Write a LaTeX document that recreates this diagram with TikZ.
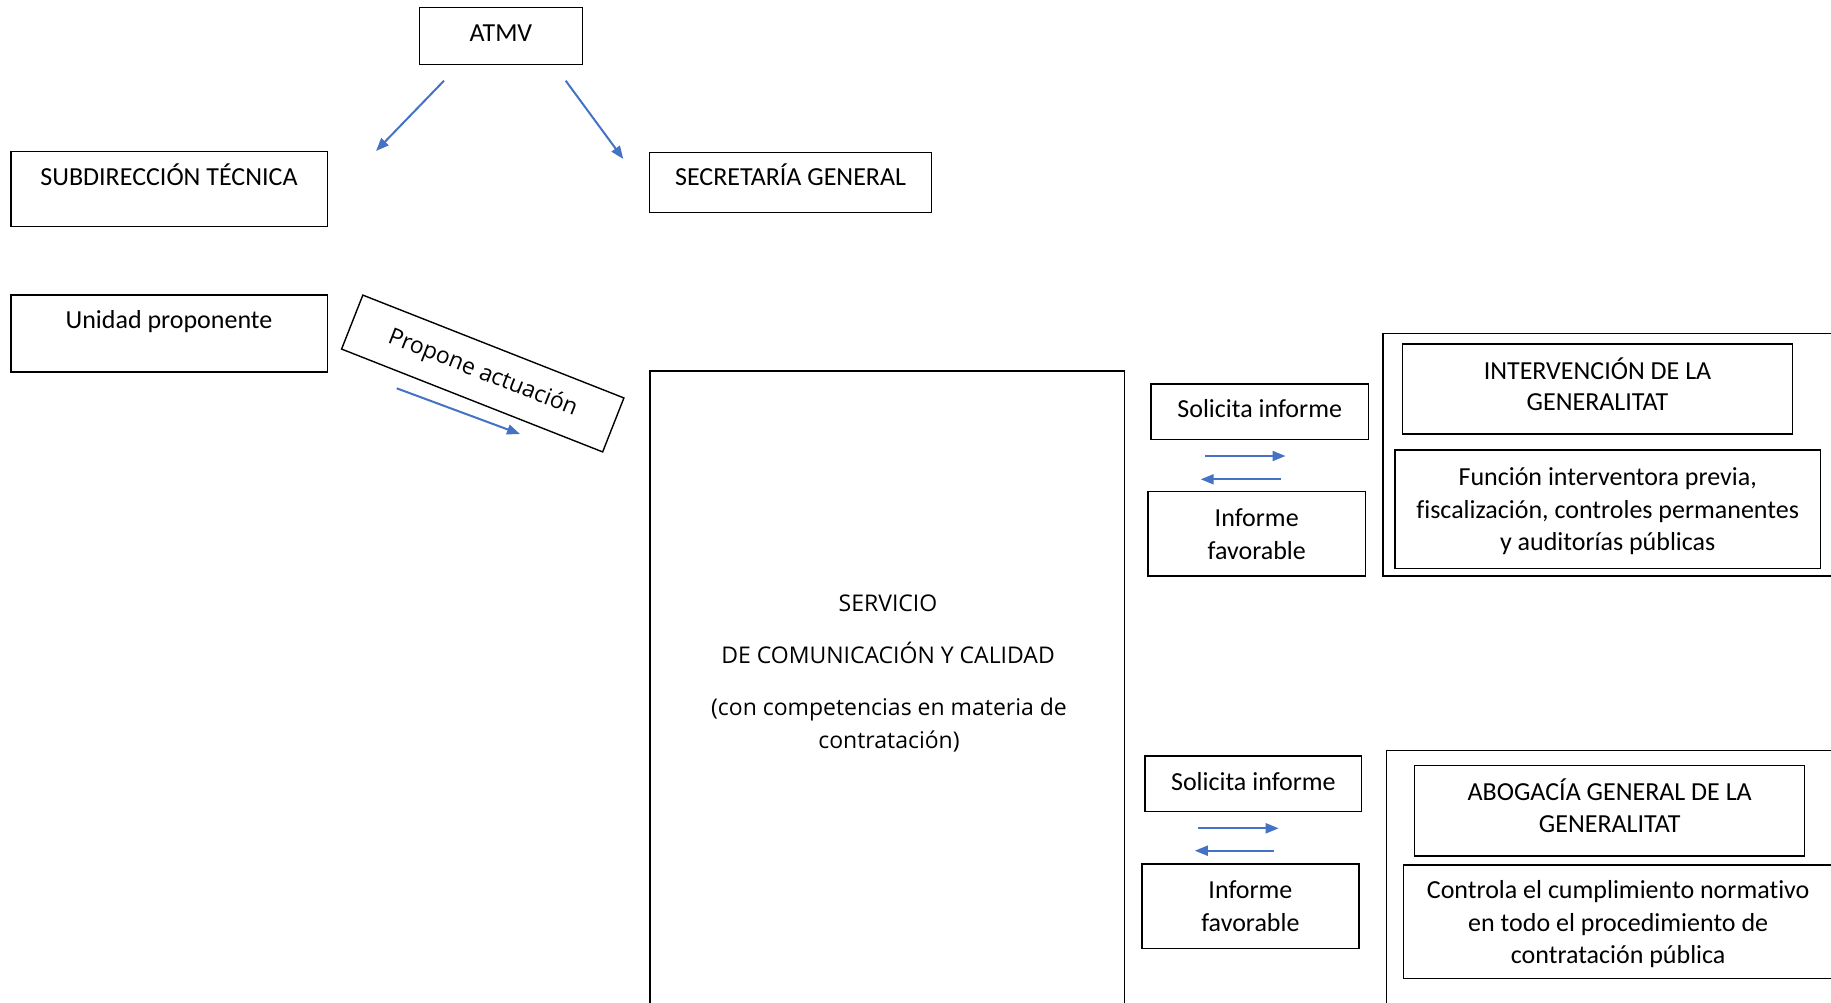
\documentclass[tikz,border=0pt]{standalone}
\usepackage{fontspec}
\setmainfont{Carlito}[Ligatures={NoCommon}]
\newfontfamily\osans{Open Sans}
\usetikzlibrary{fit,arrows.meta}
\definecolor{arrowblue}{HTML}{4472C4}
\begin{document}
\begin{tikzpicture}[x=0.5pt,y=-0.5pt,
  box/.style={draw=black, line width=0.7pt, inner sep=0pt},
  lbl/.style={inner sep=0pt, align=center, font=\fontsize{13}{16}\selectfont},
  slbl/.style={inner sep=0pt, align=center, font=\osans\fontsize{11.5}{15.85}\selectfont},
  arr/.style={draw=arrowblue, line width=1pt, -{Triangle[length=6.5pt,width=5pt]}}]
\useasboundingbox (0,0) rectangle (1831,1002);
\clip (0,0) rectangle (1831,1002);

% boxes
\node[box, fit={(419.4,7.3)(582.4,64.3)}] (atmv) {};
\node[box, fit={(10.9,151.7)(327.3,226.7)}] (subd) {};
\node[box, fit={(649.7,152.3)(931.5,212.3)}] (secr) {};
\node[box, fit={(10.9,295)(327.3,372)}] (unid) {};
\node[box, fit={(650,371)(1124.5,1012)}] (serv) {};
\node[box, rotate=-21.5, minimum width=140.3pt, minimum height=29pt,
      font=\osans\fontsize{11.5}{14}\selectfont] (prop) at (482.75,373.5) {Propone actuación};
\node[box, fit={(1150.8,384)(1368.5,439.3)}] (sol1) {};
\node[box, fit={(1148,491.7)(1365.3,576)}] (inf1) {};
\node[box, fit={(1383,333.3)(1845,576)}] (intout) {};
\node[box, fit={(1402.5,344)(1792.5,434)}] (inttit) {};
\node[box, fit={(1394.8,450)(1820.6,568.3)}] (intfun) {};
\node[box, fit={(1145,756)(1361.7,811.7)}] (sol2) {};
\node[box, fit={(1141.8,864)(1359,948.3)}] (inf2) {};
\node[box, fit={(1386.2,750.7)(1845,1012)}] (abgout) {};
\node[box, fit={(1414.7,765.7)(1804.7,856)}] (abgtit) {};
\node[box, fit={(1403.4,865)(1835,978.3)}] (abgfun) {};

% labels
\node[lbl, anchor=base] (tatmv) at (500.9,41.7) {ATMV};
\node[lbl, anchor=base] (tsubd) at (169,185) {SUBDIRECCIÓN TÉCNICA};
\node[lbl, anchor=base] (tsecr) at (790.6,185) {SECRETARÍA GENERAL};
\node[lbl, anchor=base] (tunid) at (169,328.3) {Unidad proponente};
\node[lbl, anchor=base] (tsol1) at (1259.7,417) {Solicita informe};
\node[lbl, anchor=base] (tsol2) at (1253.4,790) {Solicita informe};
\node[lbl, font=\fontsize{13}{16.4}\selectfont] (tinf1) at (1256.7,534) {Informe\\favorable};
\node[lbl, font=\fontsize{13}{16.4}\selectfont] (tinf2) at (1250.4,906.5) {Informe\\favorable};
\node[lbl, font=\fontsize{13}{15.6}\selectfont] (tinttit) at (1597.5,384) {INTERVENCIÓN DE LA\\GENERALITAT};
\node[lbl, font=\fontsize{13}{16.2}\selectfont] (tabgtit) at (1609.7,805.5) {ABOGACÍA GENERAL DE LA\\GENERALITAT};
\node[lbl, font=\fontsize{13}{16.1}\selectfont] (tintfun) at (1607.7,511.3) {Función interventora previa,\\fiscalización, controles permanentes\\y auditorías públicas};
\node[lbl, font=\fontsize{13}{16.25}\selectfont] (tabgfun) at (1618.2,924.3) {Controla el cumplimiento normativo\\en todo el procedimiento de\\contratación pública};
\node[slbl, anchor=base] (tserv1) at (888,611.7) {SERVICIO};
\node[slbl, anchor=base] (tserv2) at (888,663.3) {DE COMUNICACIÓN Y CALIDAD};
\node[slbl, font=\osans\fontsize{11.5}{16.2}\selectfont] (tserv3) at (889,725) {(con competencias en materia de\\contratación)};

% arrow end points
\coordinate (a1s) at (444,80.7);   \coordinate (a1e) at (376,151);
\coordinate (a2s) at (565.7,80.7); \coordinate (a2e) at (623.3,159);
\coordinate (a3s) at (396.7,388.3); \coordinate (a3e) at (520,434);
\coordinate (b1s) at (1205.3,456); \coordinate (b1e) at (1285.5,456);
\coordinate (b2s) at (1281,479.3); \coordinate (b2e) at (1200.7,479.3);
\coordinate (c1s) at (1198.4,828.3); \coordinate (c1e) at (1278.7,828.3);
\coordinate (c2s) at (1274,850.7); \coordinate (c2e) at (1194.8,850.7);

\draw[arr] (a1s) -- (a1e);
\draw[arr] (a2s) -- (a2e);
\draw[arr] (a3s) -- (a3e);
\draw[arr] (b1s) -- (b1e);
\draw[arr] (b2s) -- (b2e);
\draw[arr] (c1s) -- (c1e);
\draw[arr] (c2s) -- (c2e);
\end{tikzpicture}
\end{document}
